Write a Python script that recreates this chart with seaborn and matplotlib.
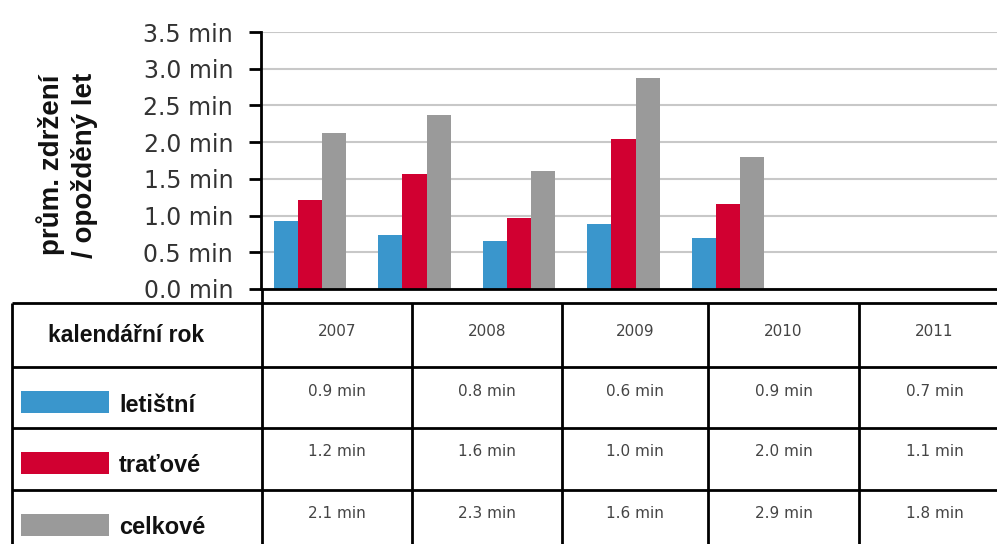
import numpy as np
import pandas as pd
import matplotlib
matplotlib.use('Agg')
import matplotlib.pyplot as plt
import seaborn as sns

# ========================================
# Данные
# ========================================
years = ['2007', '2008', '2009', '2010', '2011']
series_names = ['letištní', 'traťové', 'celkové']
colors = ['#3a96cc', '#d10031', '#9a9a9a']

# высоты столбцов
letistni_bars = [0.92, 0.73, 0.65, 0.89, 0.70]
tratove_bars = [1.21, 1.56, 0.97, 2.04, 1.16]
celkove_bars = [2.12, 2.37, 1.61, 2.87, 1.80]

# значения в таблице под графиком
letistni_table = [0.9, 0.8, 0.6, 0.9, 0.7]
tratove_table = [1.2, 1.6, 1.0, 2.0, 1.1]
celkove_table = [2.1, 2.3, 1.6, 2.9, 1.8]

y_ticks = [0.0, 0.5, 1.0, 1.5, 2.0, 2.5, 3.0, 3.5]
y_ticklabels = ['0.0 min', '0.5 min', '1.0 min', '1.5 min', '2.0 min',
                '2.5 min', '3.0 min', '3.5 min']
y_label = 'prům. zdržení\n/ opožděný let'
header_label = 'kalendářní rok'

# ========================================
# Подготовка
# ========================================
df = pd.DataFrame({
    'rok': years * 3,
    'typ': [series_names[0]] * 5 + [series_names[1]] * 5 + [series_names[2]] * 5,
    'min': letistni_bars + tratove_bars + celkove_bars,
})
table_rows = [letistni_table, tratove_table, celkove_table]

sns.set_style('white')
plt.rcParams['font.family'] = ['DejaVu Sans']
BOLD = ['Liberation Sans', 'DejaVu Sans']

W, H = 997, 544
fig = plt.figure(figsize=(W / 100, H / 100), dpi=100)

# область графика в пикселях
ax_left, ax_right, ax_top, ax_bottom = 261, 997, 32, 289
ax = fig.add_axes([ax_left / W, 1 - ax_bottom / H,
                   (ax_right - ax_left) / W, (ax_bottom - ax_top) / H])

sns.barplot(data=df, x='rok', y='min', hue='typ', palette=colors,
            width=0.69, gap=0, saturation=1, legend=False, ax=ax)

# центры групп на ~310 px, шаг ~104.5 px
step = 104.5
ax.set_xlim((ax_left - 310) / step, (ax_right - 310) / step)
ax.set_ylim(0, 3.5)
ax.set_yticks(y_ticks)
ax.set_yticklabels(y_ticklabels, fontsize=17, color='#333333')
ax.set_xticks([])
ax.set_xlabel('')
ax.set_ylabel('')
ax.yaxis.grid(True, color='#c8c8c8', linewidth=1.5)
ax.set_axisbelow(True)
ax.tick_params(axis='y', which='major', direction='out', length=9,
               width=2, color='black', pad=11, left=True)
for side in ['top', 'right']:
    ax.spines[side].set_visible(False)
ax.spines['left'].set_linewidth(2)
ax.spines['left'].set_color('black')
ax.spines['bottom'].set_linewidth(2)
ax.spines['bottom'].set_color('black')
for patch in ax.patches:
    patch.set_edgecolor('none')

# подпись оси Y
fig.text(67 / W, 1 - 165 / H, y_label, rotation=90, ha='center', va='center',
         fontsize=20, fontweight='bold', family=BOLD,
         linespacing=1.3, color='#111111')

# ========================================
# Таблица
# ========================================
tab = fig.add_axes([0, 0, 1, 1], zorder=-1)
tab.set_xlim(0, W)
tab.set_ylim(H, 0)
tab.axis('off')

col_edges = [12, 262, 412, 562, 708, 859, 1010]
row_edges = [303, 367, 428, 490, 560]

for y in row_edges[:-1]:
    tab.plot([col_edges[0], W], [y, y], color='black', lw=2, solid_capstyle='butt')
for x in col_edges[:-1]:
    tab.plot([x, x], [row_edges[0], H], color='black', lw=2, solid_capstyle='butt')
# продолжение оси до таблицы
tab.plot([262, 262], [289, 303], color='black', lw=2)

tab.text(126, 336, header_label, ha='center', va='center',
         fontsize=16.5, fontweight='bold', family=BOLD, color='#111111')

for j, yr in enumerate(years):
    cx = (col_edges[j + 1] + col_edges[j + 2]) / 2
    tab.text(cx, 332, yr, ha='center', va='center', fontsize=11, color='#444444')

for i, (name, vals) in enumerate(zip(series_names, table_rows)):
    y0 = row_edges[i + 1]
    tab.add_patch(plt.Rectangle((21, y0 + 24), 88, 22, color=colors[i], lw=0))
    tab.text(119, y0 + 38, name, ha='left', va='center', fontsize=17,
             fontweight='bold', family=BOLD, color='#111111')
    for j, v in enumerate(vals):
        cx = (col_edges[j + 1] + col_edges[j + 2]) / 2
        tab.text(cx, y0 + 24, f'{v:.1f} min', ha='center', va='center',
                 fontsize=11, color='#444444')

fig.savefig('out.png', dpi=100)
